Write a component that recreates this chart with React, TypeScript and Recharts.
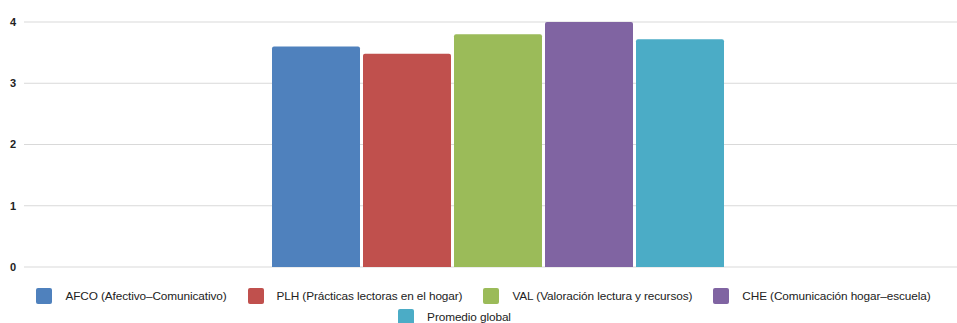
import { Bar, BarChart, CartesianGrid, Legend, XAxis, YAxis } from "recharts";

// Puntajes promedio por dimensión (escala 0–4)
const seriesKeys = ["AFCO", "PLH", "VAL", "CHE", "Promedio"];
const seriesNames = [
  "AFCO (Afectivo–Comunicativo)",
  "PLH (Prácticas lectoras en el hogar)",
  "VAL (Valoración lectura y recursos)",
  "CHE (Comunicación hogar–escuela)",
  "Promedio global",
];
const seriesValues = [3.6, 3.48, 3.8, 4.0, 3.72];
const seriesColors = ["#4f81bd", "#c0504d", "#9bbb59", "#8064a2", "#4bacc6"];
const yTicks = [0, 1, 2, 3, 4];

const row: Record<string, string | number> = { name: "" };
seriesKeys.forEach((k, i) => {
  row[k] = seriesValues[i];
});
const data = [row];

const FONT = '"Liberation Sans", Arial, sans-serif';

function LegendItem({ color, label }: { color: string; label: string }) {
  return (
    <div style={{ display: "flex", alignItems: "center" }}>
      <span
        style={{
          display: "inline-block",
          width: 16,
          height: 16,
          borderRadius: 2,
          background: color,
          marginRight: 13,
        }}
      />
      <span style={{ fontFamily: FONT, fontSize: 11.8, color: "#222", letterSpacing: -0.1 }}>{label}</span>
    </div>
  );
}

function ChartLegend() {
  const items = seriesKeys.map((k, i) => ({ key: k, label: seriesNames[i], color: seriesColors[i] }));
  const rowStyle = { display: "flex", justifyContent: "center", alignItems: "center", gap: 21, height: 21, paddingLeft: 10 };
  return (
    <div style={{ width: 957, paddingTop: 18, boxSizing: "border-box" as const }}>
      <div style={rowStyle}>
        {items.slice(0, 4).map((it) => (
          <LegendItem key={it.key} color={it.color} label={it.label} />
        ))}
      </div>
      <div style={{ ...rowStyle, paddingRight: 58 }}>
        {items.slice(4).map((it) => (
          <LegendItem key={it.key} color={it.color} label={it.label} />
        ))}
      </div>
    </div>
  );
}

export default function App() {
  return (
    <div style={{ position: "absolute", left: 0, top: 0, width: 957, height: 323, overflow: "hidden", background: "#fff" }}>
      <BarChart
        width={972}
        height={323}
        data={data}
        margin={{ top: 22, right: 0, left: 0, bottom: 0 }}
        barSize={88}
        barGap={3}
      >
        <CartesianGrid vertical={false} stroke="#d9d9d9" strokeWidth={1.2} />
        <XAxis dataKey="name" tick={false} tickLine={false} height={0} axisLine={{ stroke: "#666", strokeWidth: 1.6 }} />
        <YAxis
          domain={[0, 4]}
          ticks={yTicks}
          width={24}
          axisLine={false}
          tickLine={false}
          tick={{ fontSize: 11, fontWeight: 700, fill: "#222", fontFamily: FONT }}
        />
        <Legend verticalAlign="bottom" align="left" height={56} content={() => <ChartLegend />} />
        {seriesKeys.map((k, i) => (
          <Bar
            key={k}
            dataKey={k}
            name={seriesNames[i]}
            fill={seriesColors[i]}
            radius={[2, 2, 0, 0]}
            isAnimationActive={false}
          />
        ))}
      </BarChart>
    </div>
  );
}
